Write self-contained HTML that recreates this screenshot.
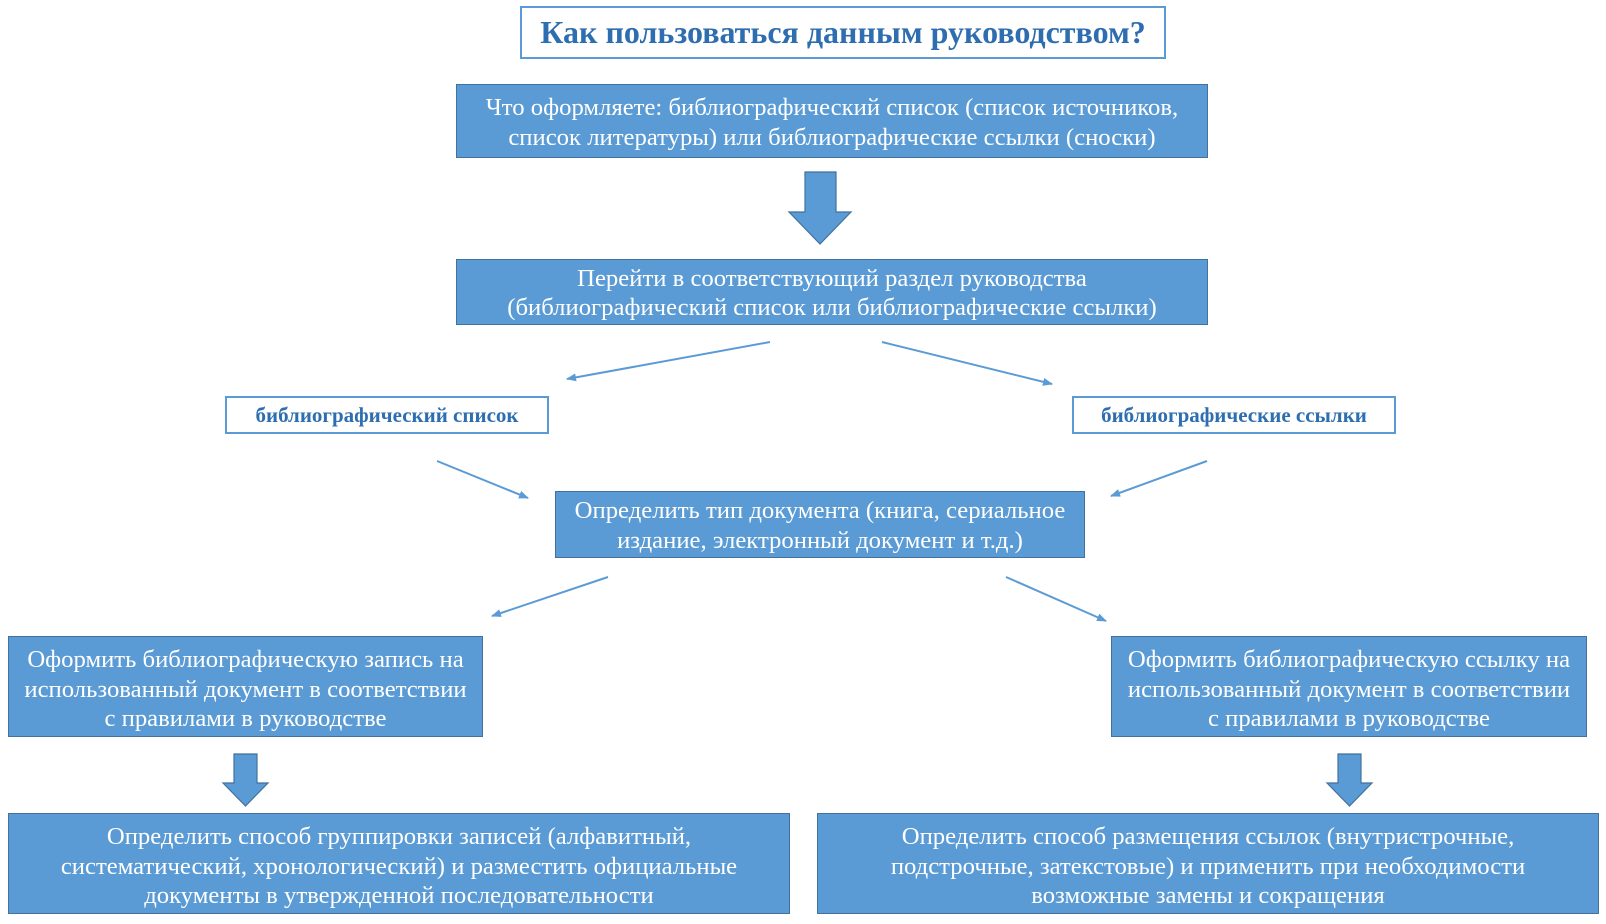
<!DOCTYPE html>
<html><head><meta charset="utf-8"><style>
body{margin:0;width:1606px;height:924px;background:#fff;position:relative;overflow:hidden;font-family:"Liberation Serif",serif}
.b{position:absolute;box-sizing:border-box;background:#5b9bd5;border:1.5px solid #41719c;color:#fff;font-size:24.7px;line-height:29.5px;text-align:center;display:flex;align-items:center;justify-content:center;white-space:nowrap}
.t{padding-top:6px}
.o{position:absolute;box-sizing:border-box;background:#fff;border:2.5px solid #5b9bd5;color:#2e6eb0;font-weight:bold;text-align:center;display:flex;align-items:center;justify-content:center;white-space:nowrap}
svg{position:absolute;left:0;top:0}
</style></head><body>
<div class="o" style="left:520px;top:6px;width:646px;height:53px;font-size:32px">Как пользоваться данным руководством?</div>
<div class="b" style="left:456px;top:84px;width:752px;height:74px;padding-top:3px">Что оформляете: библиографический список (список источников,<br>список литературы) или библиографические ссылки (сноски)</div>
<div class="b" style="left:456px;top:259px;width:752px;height:66px;padding-top:2px">Перейти в соответствующий раздел руководства<br>(библиографический список или библиографические ссылки)</div>
<div class="o" style="left:225px;top:396px;width:324px;height:38px;font-size:21px">библиографический список</div>
<div class="o" style="left:1072px;top:396px;width:324px;height:38px;font-size:21px">библиографические ссылки</div>
<div class="b" style="left:555px;top:491px;width:530px;height:67px;padding-top:2px">Определить тип документа (книга, сериальное<br>издание, электронный документ и т.д.)</div>
<div class="b t" style="left:8px;top:636px;width:475px;height:101px">Оформить библиографическую запись на<br>использованный документ в соответствии<br>с правилами в руководстве</div>
<div class="b t" style="left:1111px;top:636px;width:476px;height:101px">Оформить библиографическую ссылку на<br>использованный документ в соответствии<br>с правилами в руководстве</div>
<div class="b t" style="left:8px;top:813px;width:782px;height:101px">Определить способ группировки записей (алфавитный,<br>систематический, хронологический) и разместить официальные<br>документы в утвержденной последовательности</div>
<div class="b t" style="left:817px;top:813px;width:782px;height:101px">Определить способ размещения ссылок (внутристрочные,<br>подстрочные, затекстовые) и применить при необходимости<br>возможные замены и сокращения</div>
<svg width="1606" height="924">
<defs><marker id="m" markerWidth="10" markerHeight="8" refX="9" refY="4" orient="auto" markerUnits="userSpaceOnUse"><path d="M0,0L10,4L0,8z" fill="#5b9bd5"/></marker></defs>
<g fill="#5b9bd5" stroke="#41719c" stroke-width="1.2">
<path d="M805,172H836V212H851L820,244L789,212H805Z"/>
<path d="M234,754H257V783H268L245.5,806L223,783H234Z"/>
<path d="M1338,754H1361V783H1372L1349.5,806L1327,783H1338Z"/>
</g>
<g stroke="#5b9bd5" stroke-width="2" marker-end="url(#m)">
<line x1="770" y1="342" x2="567" y2="379"/>
<line x1="882" y1="342" x2="1052" y2="384"/>
<line x1="437" y1="461" x2="528" y2="498"/>
<line x1="1207" y1="461" x2="1111" y2="496"/>
<line x1="608" y1="577" x2="492" y2="616"/>
<line x1="1006" y1="577" x2="1106" y2="621"/>
</g>
</svg>
</body></html>
